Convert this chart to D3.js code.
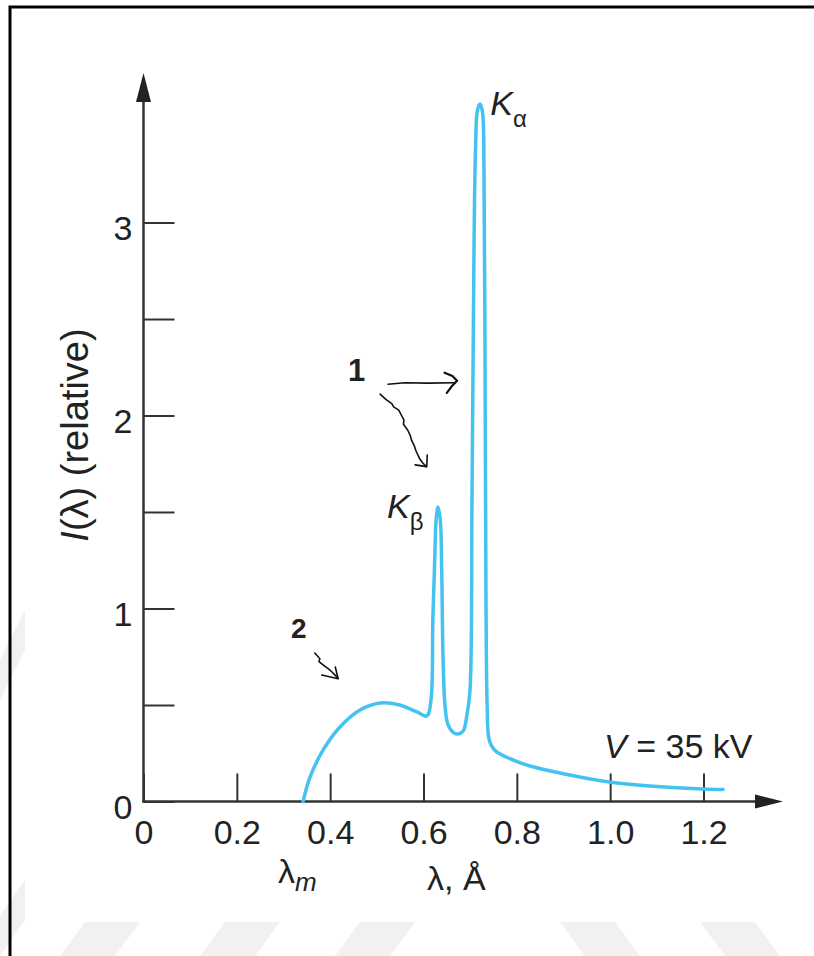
<!DOCTYPE html>
<html>
<head>
<meta charset="utf-8">
<script src="https://cdn.jsdelivr.net/npm/d3@7"></script>
<style>
  html, body { margin: 0; padding: 0; background: #fff; }
  svg { display: block; }
  text { font-family: "Liberation Sans", Arial, sans-serif; fill: #222; }
</style>
</head>
<body>
<svg id="chart" width="814" height="956"></svg>
<script>
// X-ray spectrum, V = 35 kV (wavelength in Å, relative intensity)
const lambda = [0.342, 0.357, 0.385, 0.421, 0.464, 0.507, 0.549, 0.586, 0.607,
  0.616, 0.620, 0.624, 0.627, 0.631, 0.636, 0.639, 0.642, 0.646, 0.652, 0.663,
  0.674, 0.685, 0.693, 0.6996, 0.7039, 0.7082, 0.7114, 0.7157, 0.7211, 0.7264,
  0.7296, 0.7318, 0.7339, 0.7363, 0.7395, 0.745, 0.756, 0.785, 0.828, 0.892, 0.998,
  1.085, 1.197, 1.242];
const intensity = [0.000, 0.127, 0.267, 0.386, 0.474, 0.510, 0.500, 0.464, 0.443,
  0.526, 0.940, 1.251, 1.458, 1.526, 1.458, 1.199, 0.733, 0.500, 0.402, 0.360,
  0.350, 0.365, 0.448, 0.575, 1.562, 2.857, 3.376, 3.583, 3.614, 3.572,
  3.272, 2.339, 1.044, 0.500, 0.335, 0.292, 0.258, 0.222, 0.184, 0.148, 0.101,
  0.080, 0.065, 0.062];

const xTicks = [0, 0.2, 0.4, 0.6, 0.8, 1.0, 1.2];
const xTickLabels = ["0", "0.2", "0.4", "0.6", "0.8", "1.0", "1.2"];
const yTicks = [0, 0.5, 1, 1.5, 2, 2.5, 3];
const yTickLabels = ["0", "", "1", "", "2", "", "3"];

const svg = d3.select("#chart");

// faint watermark stripes outside the picture area
const band = svg.append("g").attr("fill", "#f1f1f1");
[60, 200, 335].forEach(function(x0) {
  band.append("path").attr("d", `M${x0},956 L${x0 + 55},956 L${x0 + 80},922 L${x0 + 25},922 Z`);
});
[560, 700].forEach(function(x0) {
  band.append("path").attr("d", `M${x0 + 25},956 L${x0 + 80},956 L${x0 + 55},922 L${x0},922 Z`);
});
band.append("path").attr("d", "M0,700 L25,650 L25,610 L0,660 Z");
band.append("path").attr("d", "M0,956 L25,920 L25,880 L0,916 Z");

// frame
svg.append("path").attr("d", "M10,956 L10,7 L814,7")
  .attr("fill", "none").attr("stroke", "#000").attr("stroke-width", 3);

const x = d3.scaleLinear().domain([0, 1.2]).range([143.5, 703.5]);
const y = d3.scaleLinear().domain([0, 3]).range([801.5, 222.5]);

const axisColor = "#333";

// x axis ticks (pointing up into the plot)
const gx = svg.append("g").attr("transform", `translate(0,${y(0)})`)
  .call(d3.axisBottom(x).tickValues(xTicks)
    .tickFormat(function(d, i) { return xTickLabels[i]; })
    .tickSizeInner(-28).tickSizeOuter(0).tickPadding(18));
gx.select(".domain").remove();
gx.selectAll(".tick line").attr("stroke", axisColor).attr("stroke-width", 2);
gx.selectAll(".tick text").attr("font-size", 34).attr("fill", "#222")
  .attr("font-family", "Liberation Sans, Arial, sans-serif");

// y axis ticks (pointing right into the plot)
const gy = svg.append("g").attr("transform", `translate(${x(0)},0)`)
  .call(d3.axisLeft(y).tickValues(yTicks)
    .tickFormat(function(d, i) { return yTickLabels[i]; })
    .tickSizeInner(-31).tickSizeOuter(0).tickPadding(11));
gy.select(".domain").remove();
gy.selectAll(".tick line").attr("stroke", axisColor).attr("stroke-width", 2);
gy.selectAll(".tick text").attr("font-size", 34).attr("fill", "#222").attr("dy", "0.5em")
  .attr("font-family", "Liberation Sans, Arial, sans-serif");

// axis lines with arrow heads
svg.append("line").attr("x1", x(0)).attr("x2", x(0)).attr("y1", y(0) + 1).attr("y2", 90)
  .attr("stroke", axisColor).attr("stroke-width", 2.5);
svg.append("path")
  .attr("d", `M${x(0)},73 L${x(0) - 7.5},102 L${x(0) + 7.5},102 Z`).attr("fill", "#222");
svg.append("line").attr("x1", x(0) - 1).attr("x2", 765).attr("y1", y(0)).attr("y2", y(0))
  .attr("stroke", axisColor).attr("stroke-width", 2.5);
svg.append("path")
  .attr("d", `M783,${y(0)} L755,${y(0) - 7} L755,${y(0) + 7} Z`).attr("fill", "#222");

// spectrum
const pts = lambda.map(function(l, i) { return [l, intensity[i]]; });
const line = d3.line()
  .x(function(d) { return x(d[0]); })
  .y(function(d) { return y(d[1]); })
  .curve(d3.curveCatmullRom.alpha(0.5));
svg.append("path").datum(pts).attr("d", line)
  .attr("fill", "none").attr("stroke", "#45c3f0").attr("stroke-width", 3.5)
  .attr("stroke-linejoin", "round").attr("stroke-linecap", "round");

// axis titles
svg.append("text").attr("transform", "translate(88,435) rotate(-90)")
  .attr("text-anchor", "middle").attr("font-size", 38)
  .html('<tspan font-style="italic">I</tspan>(λ) (relative)');
svg.append("text").attr("x", 278).attr("y", 883).attr("font-size", 34)
  .html('λ<tspan font-style="italic" font-size="26" dy="8">m</tspan>');
svg.append("text").attr("x", 427).attr("y", 890).attr("font-size", 34).text("λ, Å");

// peak labels
function label(lx, ly, sub) {
  const t = svg.append("text").attr("x", x(lx)).attr("y", y(ly)).attr("font-size", 34);
  t.append("tspan").attr("font-style", "italic").text("K");
  t.append("tspan").attr("font-size", 24).attr("dy", 12).text(sub);
}
label(0.743, 3.557, "α");
label(0.522, 1.469, "β");

svg.append("text").attr("x", x(0.987)).attr("y", y(0.225)).attr("font-size", 34)
  .html('<tspan font-style="italic">V</tspan> = 35 kV');

// hand-written annotations
const ann = d3.line().x(function(d) { return x(d[0]); }).y(function(d) { return y(d[1]); });
function stroke(points, w) {
  svg.append("path").attr("d", ann(points)).attr("fill", "none")
    .attr("stroke", "#111").attr("stroke-width", w)
    .attr("stroke-linejoin", "round").attr("stroke-linecap", "round");
}
svg.append("text").attr("x", x(0.438)).attr("y", y(2.179))
  .attr("font-family", "Liberation Serif, Times New Roman, serif")
  .attr("font-weight", "bold").attr("font-size", 31).text("1");
svg.append("text").attr("x", x(0.316)).attr("y", y(0.847))
  .attr("font-family", "Liberation Serif, Times New Roman, serif")
  .attr("font-weight", "bold").attr("font-size", 28).text("2");

stroke([[0.524, 2.162], [0.560, 2.170], [0.610, 2.168], [0.668, 2.170]], 1.6);
stroke([[0.645, 2.222], [0.662, 2.205], [0.672, 2.180], [0.660, 2.150], [0.650, 2.117]], 2.2);

stroke([[0.507, 2.111], [0.520, 2.082], [0.532, 2.062], [0.536, 2.045], [0.547, 2.028],
  [0.553, 2.000], [0.558, 1.977], [0.557, 1.955], [0.566, 1.925], [0.571, 1.900],
  [0.575, 1.868], [0.580, 1.845], [0.584, 1.816], [0.592, 1.775], [0.598, 1.755],
  [0.606, 1.735]], 1.6);
stroke([[0.582, 1.744], [0.607, 1.735], [0.608, 1.795]], 1.6);

stroke([[0.367, 0.769], [0.378, 0.740], [0.376, 0.725], [0.389, 0.700], [0.395, 0.690],
  [0.404, 0.671], [0.417, 0.638]], 1.6);
stroke([[0.382, 0.655], [0.417, 0.636], [0.411, 0.697]], 1.6);
</script>
</body>
</html>
